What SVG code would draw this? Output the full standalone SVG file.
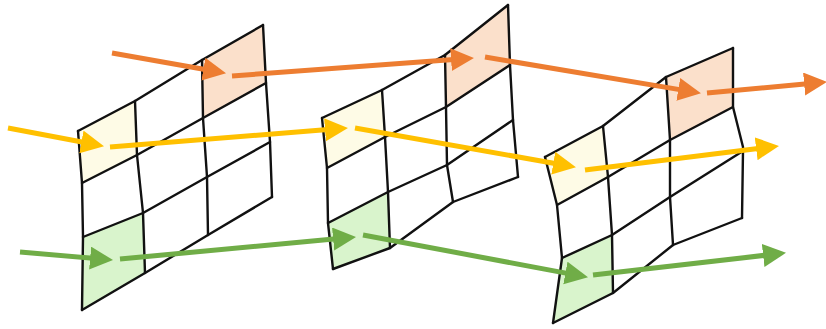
<svg xmlns="http://www.w3.org/2000/svg" width="826" height="329" viewBox="0 0 826 329">
<style>
.grid{fill:none;stroke:#111;stroke-width:2.4;stroke-linejoin:round;stroke-linecap:round}
.fo{fill:#FBE0CB;stroke:none}
.fy{fill:#FEFBE6;stroke:none}
.fg{fill:#D9F4CC;stroke:none}
.ao{fill:none;stroke:#ED7D31;stroke-width:5;marker-end:url(#mo)}
.ay{fill:none;stroke:#FFC000;stroke-width:5;marker-end:url(#my)}
.ag{fill:none;stroke:#70AD47;stroke-width:5;marker-end:url(#mg)}
</style>
<defs>
<marker id="mo" markerUnits="userSpaceOnUse" markerWidth="24" markerHeight="24" refX="6" refY="11.5" orient="auto" viewBox="0 0 24 24"><path d="M0,0 L23,11.5 L0,23 z" fill="#ED7D31"/></marker>
<marker id="my" markerUnits="userSpaceOnUse" markerWidth="24" markerHeight="24" refX="6" refY="11.5" orient="auto" viewBox="0 0 24 24"><path d="M0,0 L23,11.5 L0,23 z" fill="#FFC000"/></marker>
<marker id="mg" markerUnits="userSpaceOnUse" markerWidth="24" markerHeight="24" refX="6" refY="11.5" orient="auto" viewBox="0 0 24 24"><path d="M0,0 L23,11.5 L0,23 z" fill="#70AD47"/></marker>
</defs>
<rect width="826" height="329" fill="#fff"/>
<g id="panel1">
<polygon class="fy" points="78,131 135,101 137,155 82,183"/>
<polygon class="fo" points="202,60 263,25 266,83 203,118"/>
<polygon class="fg" points="83,237 143,213 145,273 82,310"/>
<polyline class="grid" points="78,131 135,101 202,60 263,25"/>
<polyline class="grid" points="82,183 137,155 203,118 266,83"/>
<polyline class="grid" points="83,237 143,213 207,177 270,142"/>
<polyline class="grid" points="82,310 145,273 208,235 272,197"/>
<polyline class="grid" points="78,131 82,183 83,237 82,310"/>
<polyline class="grid" points="135,101 137,155 143,213 145,273"/>
<polyline class="grid" points="202,60 203,118 207,177 208,235"/>
<polyline class="grid" points="263,25 266,83 270,142 272,197"/>
</g>
<g id="panel2">
<polygon class="fy" points="322,118 382,90 385,137 327,168"/>
<polygon class="fo" points="445,55 508,5 510,65 446,107"/>
<polygon class="fg" points="328,223 388,192 390,248 333,269"/>
<polyline class="grid" points="322,118 382,90 445,55 508,5"/>
<polyline class="grid" points="327,168 385,137 446,107 510,65"/>
<polyline class="grid" points="328,223 388,192 447,165 513,120"/>
<polyline class="grid" points="333,269 390,248 453,202 518,177"/>
<polyline class="grid" points="322,118 327,168 328,223 333,269"/>
<polyline class="grid" points="382,90 385,137 388,192 390,248"/>
<polyline class="grid" points="445,55 446,107 447,165 453,202"/>
<polyline class="grid" points="508,5 510,65 513,120 518,177"/>
</g>
<g id="panel3">
<polygon class="fy" points="545,157 603,126 608,177 557,205"/>
<polygon class="fo" points="666,77 733,48 733,107 670,140"/>
<polygon class="fg" points="562,258 612,235 613,293 553,323"/>
<polyline class="grid" points="545,157 603,126 666,77 733,48"/>
<polyline class="grid" points="557,205 608,177 670,140 733,107"/>
<polyline class="grid" points="562,258 612,235 670,197 743,151"/>
<polyline class="grid" points="553,323 613,293 673,245 742,218"/>
<polyline class="grid" points="545,157 557,205 562,258 553,323"/>
<polyline class="grid" points="603,126 608,177 612,235 613,293"/>
<polyline class="grid" points="666,77 670,140 670,197 673,245"/>
<polyline class="grid" points="733,48 733,107 743,147 743,151 742,218"/>
</g>
<g id="connectors">
<line class="ao" x1="112" y1="53" x2="209.3" y2="70.2"/>
<line class="ao" x1="232" y1="76" x2="457" y2="59.2"/>
<line class="ao" x1="485" y1="57" x2="684.2" y2="90.4"/>
<line class="ao" x1="707" y1="93" x2="810.1" y2="83.5"/>
<line class="ay" x1="8" y1="128" x2="87.3" y2="143"/>
<line class="ay" x1="110" y1="147" x2="331" y2="129.3"/>
<line class="ay" x1="355" y1="128" x2="559.2" y2="164.2"/>
<line class="ay" x1="585" y1="170" x2="762.1" y2="148"/>
<line class="ag" x1="20" y1="252" x2="96.1" y2="258.6"/>
<line class="ag" x1="120" y1="259" x2="339.1" y2="238.5"/>
<line class="ag" x1="363" y1="235" x2="571.3" y2="274.1"/>
<line class="ag" x1="593" y1="275" x2="769.1" y2="254.8"/>
</g>
</svg>
